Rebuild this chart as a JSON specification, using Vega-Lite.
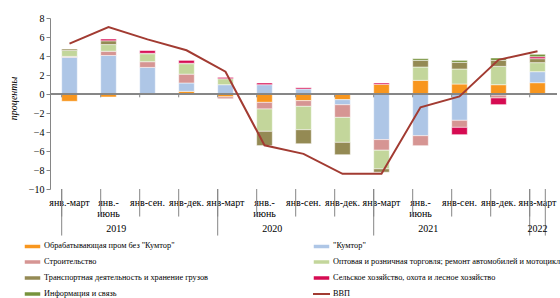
{
  "$schema": "https://vega.github.io/schema/vega-lite/v6.json",
  "width": 507,
  "height": 171,
  "autosize": {"type": "none"},
  "padding": {"left": 50, "top": 18, "right": 3, "bottom": 109},
  "background": "white",
  "config": {"view": {"stroke": null}, "font": "Liberation Serif"},
  "datasets": {
    "rows": [
      {"p": "2019-1:янв.-март", "q": 1, "gdp": 5.3, "m": -0.77, "k": 3.86, "c": 0.1, "t": 0.63, "tr": 0.14, "a": 0, "i": 0},
      {"p": "2019-2:янв.-/июнь", "q": 2, "gdp": 7.05, "m": -0.32, "k": 4.05, "c": 0.45, "t": 0.7, "tr": 0.4, "a": 0.18, "i": 0},
      {"p": "2019-3:янв-сен.", "q": 3, "gdp": 5.75, "m": 0, "k": 2.8, "c": 0.6, "t": 0.84, "tr": 0.05, "a": 0.28, "i": 0},
      {"p": "2019-4:янв-дек.", "q": 4, "gdp": 4.6, "m": 0.28, "k": 0.88, "c": 0.93, "t": 1.1, "tr": 0.05, "a": 0.3, "i": 0},
      {"p": "2020-1:янв-март", "q": 1, "gdp": 2.35, "m": -0.3, "k": 0.98, "c": -0.2, "t": 0.63, "tr": 0, "a": 0.14, "i": 0},
      {"p": "2020-2:янв.-/июнь", "q": 2, "gdp": -5.4, "m": -0.88, "k": 0.98, "c": -0.7, "t": -2.35, "tr": -1.5, "a": 0.18, "i": 0},
      {"p": "2020-3:янв-сен.", "q": 3, "gdp": -6.3, "m": -0.7, "k": 0.53, "c": -0.6, "t": -2.46, "tr": -1.47, "a": 0.14, "i": 0},
      {"p": "2020-4:янв-дек.", "q": 4, "gdp": -8.4, "m": -0.6, "k": -0.53, "c": -1.33, "t": -2.63, "tr": -1.3, "a": 0.1, "i": 0},
      {"p": "2021-1:янв-март", "q": 1, "gdp": -8.4, "m": 1.02, "k": -4.8, "c": -1.12, "t": -1.96, "tr": -0.35, "a": 0.14, "i": 0},
      {"p": "2021-2:янв.-/июнь", "q": 2, "gdp": -1.4, "m": 1.44, "k": -4.39, "c": -1.05, "t": 1.4, "tr": 0.7, "a": 0, "i": 0.18},
      {"p": "2021-3:янв-сен.", "q": 3, "gdp": -0.25, "m": 1.05, "k": -2.77, "c": -0.74, "t": 1.58, "tr": 0.7, "a": -0.77, "i": 0.21},
      {"p": "2021-4:янв-дек.", "q": 4, "gdp": 3.6, "m": 0.98, "k": -0.12, "c": -0.3, "t": 1.93, "tr": 0.63, "a": -0.7, "i": 0.25},
      {"p": "2022-1:янв-март", "q": 1, "gdp": 4.5, "m": 1.19, "k": 1.16, "c": 0, "t": 0.95, "tr": 0.42, "a": 0.2, "i": 0.26}
    ],
    "names": [
      {"s": "m", "name": "Обрабатывающая пром без \"Кумтор\"", "ord": 1},
      {"s": "k", "name": "\"Кумтор\"", "ord": 2},
      {"s": "c", "name": "Строительство", "ord": 3},
      {"s": "t", "name": "Оптовая и розничная торговля; ремонт автомобилей и мотоциклов", "ord": 4},
      {"s": "tr", "name": "Транспортная деятельность и хранение грузов", "ord": 5},
      {"s": "a", "name": "Сельское хозяйство, охота и лесное хозяйство", "ord": 6},
      {"s": "i", "name": "Информация и связь", "ord": 7}
    ],
    "years": [
      {"p": "2019-2:янв.-/июнь", "yr": "2019"},
      {"p": "2020-2:янв.-/июнь", "yr": "2020"},
      {"p": "2021-2:янв.-/июнь", "yr": "2021"}
    ],
    "years2": [
      {"p": "2022-1:янв-март", "yr": "2022"}
    ]
  },
  "data": {"name": "rows"},
  "layer": [
    {
      "transform": [
        {"fold": ["m", "k", "c", "t", "tr", "a", "i"], "as": ["s", "v"]},
        {"filter": "datum.v != 0"},
        {"lookup": "s", "from": {"data": {"name": "names"}, "key": "s", "fields": ["name", "ord"]}}
      ],
      "mark": {"type": "bar", "stroke": "white", "strokeWidth": 0.5},
      "encoding": {
        "x": {
          "field": "p", "type": "nominal", "title": null,
          "scale": {"paddingInner": 0.6, "paddingOuter": 0.3},
          "axis": {
            "title": null, "domain": false, "ticks": false, "labelAngle": 0, "labelOverlap": false,
            "labelExpr": "split(split(datum.value, ':')[1], '/')",
            "labelFont": "Liberation Serif", "labelFontSize": 10, "labelColor": "#000",
            "labelLineHeight": 11, "labelBaseline": "top", "labelPadding": 8
          }
        },
        "y": {
          "field": "v", "type": "quantitative", "title": "проценты", "stack": "zero",
          "scale": {"domain": [-10, 8], "nice": false},
          "axis": {
            "values": [-10, -8, -6, -4, -2, 0, 2, 4, 6, 8], "tickCount": 10, "grid": false, "labelOverlap": false,
            "domainColor": "#868686", "tickColor": "#868686", "tickSize": 4,
            "labelFont": "Liberation Serif", "labelFontSize": 10, "labelColor": "#000", "labelPadding": 2,
            "titleFont": "Liberation Serif", "titleFontSize": 10, "titleFontStyle": "italic",
            "titleFontWeight": "normal", "titleColor": "#000",
            "titleX": -32, "titleY": 80, "titleAngle": 270, "titleAlign": "center", "titleBaseline": "bottom"
          }
        },
        "color": {
          "field": "name", "type": "nominal",
          "scale": {
            "domain": [
              "Обрабатывающая пром без \"Кумтор\"", "\"Кумтор\"", "Строительство",
              "Оптовая и розничная торговля; ремонт автомобилей и мотоциклов",
              "Транспортная деятельность и хранение грузов",
              "Сельское хозяйство, охота и лесное хозяйство", "Информация и связь"
            ],
            "range": ["#f8961e", "#aec6e6", "#d69593", "#c3d69b", "#948a54", "#d60b52", "#77933c"]
          },
          "legend": {
            "title": null, "orient": "none", "legendX": -27, "legendY": 218.5,
            "direction": "horizontal",
            "columns": 2, "columnPadding": 101, "rowPadding": -1,
            "labelFont": "Liberation Serif", "labelFontSize": 8.3, "labelColor": "#000",
            "labelLimit": 400, "labelOffset": 2, "symbolSize": 289,
            "symbolType": "M-1,-0.3H1V0.3H-1Z"
          }
        },
        "order": {"field": "ord", "type": "quantitative"}
      }
    },
    {
      "mark": {"type": "rule", "color": "#868686", "strokeWidth": 1},
      "encoding": {"y": {"datum": 0, "type": "quantitative"}}
    },
    {
      "mark": {"type": "rule", "color": "#868686", "strokeWidth": 1},
      "encoding": {
        "x": {"field": "p", "type": "nominal", "bandPosition": 0, "title": null},
        "y": {"datum": 0, "type": "quantitative"},
        "y2": {"datum": -0.35}
      }
    },
    {
      "mark": {"type": "rule", "color": "#868686", "strokeWidth": 1},
      "encoding": {
        "x": {"field": "p", "type": "nominal", "bandPosition": 0, "title": null},
        "y": {"datum": -10, "type": "quantitative"},
        "y2": {"datum": -12.9}
      }
    },
    {
      "transform": [{"filter": "datum.q == 1"}],
      "mark": {"type": "rule", "color": "#868686", "strokeWidth": 1},
      "encoding": {
        "x": {"field": "p", "type": "nominal", "bandPosition": 0, "title": null},
        "y": {"datum": -10, "type": "quantitative"},
        "y2": {"datum": -14.9}
      }
    },
    {
      "data": {"name": "years2"},
      "mark": {"type": "rule", "color": "#868686", "strokeWidth": 1},
      "encoding": {
        "x": {"field": "p", "type": "nominal", "bandPosition": 1, "title": null},
        "y": {"datum": -10, "type": "quantitative"},
        "y2": {"datum": -14.9}
      }
    },
    {
      "transform": [{"calculate": "'ВВП'", "as": "name"}],
      "mark": {"type": "line", "strokeWidth": 2},
      "encoding": {
        "x": {"field": "p", "type": "nominal", "title": null},
        "y": {"field": "gdp", "type": "quantitative", "title": "проценты"},
        "stroke": {
          "field": "name", "type": "nominal",
          "scale": {"domain": ["ВВП"], "range": ["#a23b32"]},
          "legend": {
            "title": null, "orient": "none", "legendX": 262, "legendY": 266.5,
            "labelFont": "Liberation Serif", "labelFontSize": 8.3, "labelColor": "#000",
            "labelOffset": 2, "symbolSize": 289, "symbolType": "stroke", "symbolStrokeWidth": 2
          }
        }
      }
    },
    {
      "data": {"name": "years"},
      "mark": {"type": "text", "dy": 40, "font": "Liberation Serif", "fontSize": 10, "baseline": "middle", "color": "#000"},
      "encoding": {
        "x": {"field": "p", "type": "nominal", "bandPosition": 1, "title": null},
        "y": {"datum": -10, "type": "quantitative"},
        "text": {"field": "yr"}
      }
    },
    {
      "data": {"name": "years2"},
      "mark": {"type": "text", "dy": 40, "font": "Liberation Serif", "fontSize": 10, "baseline": "middle", "color": "#000"},
      "encoding": {
        "x": {"field": "p", "type": "nominal", "bandPosition": 0.5, "title": null},
        "y": {"datum": -10, "type": "quantitative"},
        "text": {"field": "yr"}
      }
    }
  ]
}
